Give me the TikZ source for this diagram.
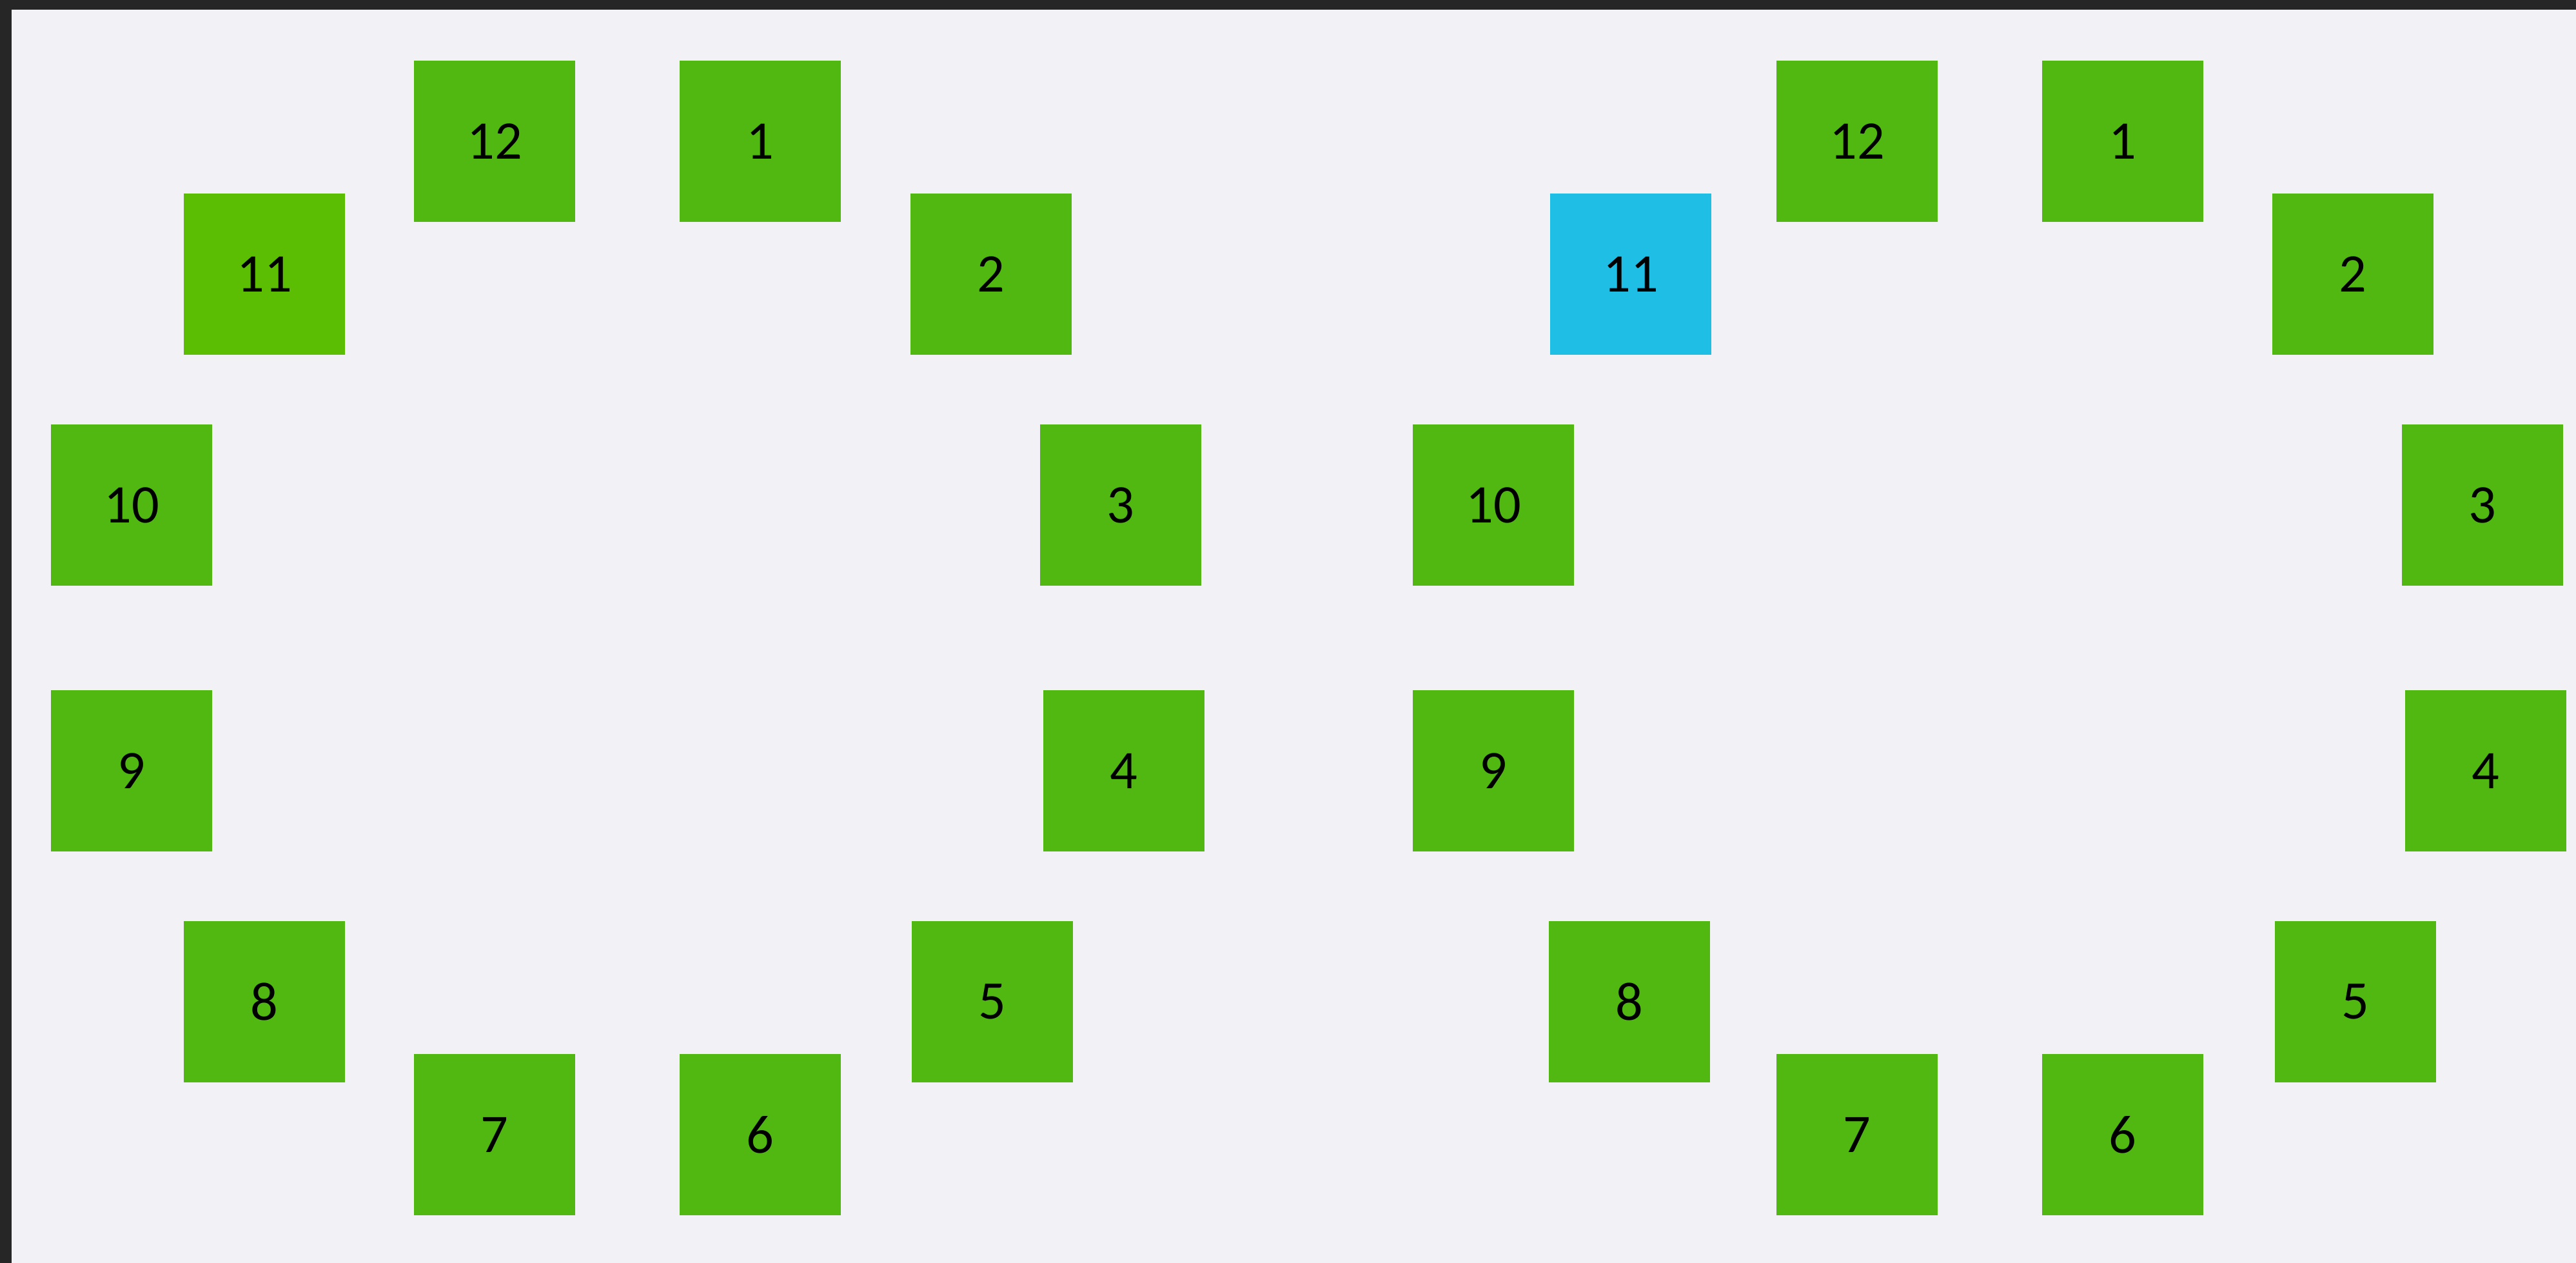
\documentclass[tikz,border=0pt]{standalone}
\usepackage{fontspec}
\setmainfont{Carlito}
\definecolor{bgpage}{HTML}{F2F1F6}
\definecolor{frame}{HTML}{262626}
\definecolor{hrgreen}{HTML}{50B811}
\definecolor{hrlime}{HTML}{5CBE02}
\definecolor{hrblue}{HTML}{1FBEE5}
\begin{document}
\begin{tikzpicture}[
    hr/.style={fill=hrgreen, minimum width=2.5cm, minimum height=2.5cm, inner sep=0pt,
               font=\fontsize{24}{28}\selectfont},
  ]
    \useasboundingbox (0,0) rectangle (39.95,19.58);
    \fill[bgpage] (0,0) rectangle (39.95,19.58);
    \fill[frame] (0,19.43) rectangle (39.95,19.58);
    \fill[frame] (0,0) rectangle (0.18,19.58);

    % left ring
    \node[hr] (l1)  at (11.79,17.39) {1};
    \node[hr] (l2)  at (15.37,15.33) {2};
    \node[hr] (l3)  at (17.38,11.75) {3};
    \node[hr] (l4)  at (17.43, 7.63) {4};
    \node[hr] (l5)  at (15.39, 4.05) {5};
    \node[hr] (l6)  at (11.79, 1.99) {6};
    \node[hr] (l7)  at ( 7.67, 1.99) {7};
    \node[hr] (l8)  at ( 4.10, 4.05) {8};
    \node[hr] (l9)  at ( 2.04, 7.63) {9};
    \node[hr] (l10) at ( 2.04,11.75) {10};
    \node[hr, fill=hrlime] (l11) at ( 4.10,15.33) {11};
    \node[hr] (l12) at ( 7.67,17.39) {12};

    % right ring
    \node[hr] (r1)  at (32.92,17.39) {1};
    \node[hr] (r2)  at (36.49,15.33) {2};
    \node[hr] (r3)  at (38.50,11.75) {3};
    \node[hr] (r4)  at (38.55, 7.63) {4};
    \node[hr] (r5)  at (36.53, 4.05) {5};
    \node[hr] (r6)  at (32.92, 1.99) {6};
    \node[hr] (r7)  at (28.80, 1.99) {7};
    \node[hr] (r8)  at (25.27, 4.05) {8};
    \node[hr] (r9)  at (23.16, 7.63) {9};
    \node[hr] (r10) at (23.16,11.75) {10};
    \node[hr, fill=hrblue] (r11) at (25.29,15.33) {11};
    \node[hr] (r12) at (28.80,17.39) {12};
  \end{tikzpicture}
\end{document}
